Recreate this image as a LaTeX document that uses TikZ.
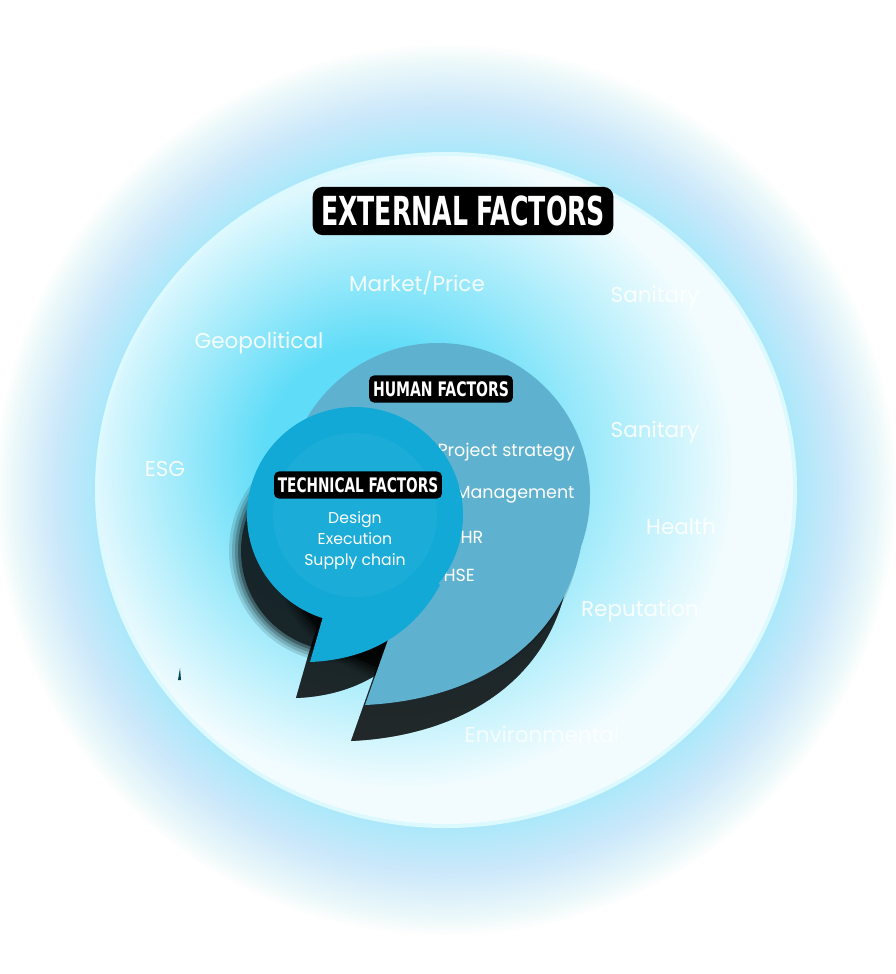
\documentclass[tikz,border=0pt]{standalone}
\usepackage{fontspec}
\setmainfont{Poppins}
\newfontfamily\titlefont{DejaVu Sans Condensed}
\usetikzlibrary{shapes.geometric}
\definecolor{humc}{HTML}{5FB2CF}
\definecolor{tecc}{HTML}{12A9D6}
\definecolor{glowc}{HTML}{5EDCF8}
\definecolor{haloc}{HTML}{6FE8FA}
\definecolor{rimc}{HTML}{F2FCFE}
\pgfdeclareradialshading{extglow}{\pgfpoint{-6bp}{3bp}}{color(0bp)=(glowc); color(8bp)=(glowc); color(24bp)=(rimc); color(50bp)=(rimc)}
\tikzset{
 titlebox/.style={fill=black,text=white,rounded corners=5pt,inner xsep=5pt,inner ysep=6pt},
 ext/.style={text=white,font=\fontsize{21.5}{24}\selectfont,opacity=0.9},
 hum/.style={text=white,font=\fontsize{17.5}{20}\selectfont,anchor=west},
 tec/.style={text=white,font=\fontsize{15.7}{21}\selectfont,align=center}
}
\begin{document}
\begin{tikzpicture}[x=1pt,y=-1pt]
\useasboundingbox (0,0) rectangle (896,974);
\fill[white] (0,0) rectangle (896,974);
% halo
\foreach \i in {0,...,40}{
 \fill[haloc,opacity=0.014] (446,490) ellipse ({346pt+2.6pt*\i} and {333pt+2.8pt*\i});
}
\fill[haloc!25] (446,490) ellipse (351pt and 338pt);
\shade[shading=extglow] (446,490) ellipse (347pt and 334pt);
% shadows
\foreach \k/\o in {0/0.12,1/0.15,2/0.2,3/0.3,4/0.6}{
 \begin{scope}[shift={(-14,36)}]
 \fill[black,opacity=\o] (438,495) circle ({156pt-3pt*\k});
 \fill[black,opacity=\o] (581,547) .. controls (560,650) and (470,700) .. (365,705) -- (395,620) -- (438,495) -- cycle;
 \fill[black,opacity=\o] (355,515) circle ({112pt-3pt*\k});
 \fill[black,opacity=\o] (440,585) .. controls (410,640) and (360,660) .. (310,662) -- (322,620) -- (355,515) -- cycle;
 \end{scope}
}
% human bubble
\fill[humc] (438,495) circle (152pt);
\fill[humc] (581,547) .. controls (560,650) and (470,700) .. (365,705) -- (395,620) -- (438,495) -- cycle;
\node[titlebox,font=\titlefont\bfseries\fontsize{20}{22}\selectfont,xscale=0.78] (hf) at (441,389) {HUMAN FACTORS};
\node[hum] (ps) at (434,452) {Project strategy};
\node[hum] (mg) at (452,495) {Management};
\node[hum] (hr) at (457,537) {HR};
\node[hum] (hse) at (440,575) {HSE};
% technical bubble
\fill[tecc] (355,515) circle (108pt);
\fill[tecc] (440,585) .. controls (410,640) and (360,660) .. (310,662) -- (322,620) -- (355,515) -- cycle;
\fill[white,opacity=0.04] (355,515) circle (82pt);
\node[titlebox,font=\titlefont\bfseries\fontsize{20}{22}\selectfont,xscale=0.76] (tf) at (358,485) {TECHNICAL FACTORS};
\node[tec] (tl) at (355,541) {Design\\Execution\\Supply chain};
% external
\node[titlebox,font=\titlefont\bfseries\fontsize{40}{44}\selectfont,inner xsep=12pt,inner ysep=9pt,rounded corners=10pt,xscale=0.7] (ef) at (463,211) {EXTERNAL FACTORS};
\node[ext] (mp) at (417,283) {Market/Price};
\node[ext] (s1) at (655,297) {Sanitary};
\node[ext] (gp) at (259,343) {Geopolitical};
\node[ext] (s2) at (655,432) {Sanitary};
\node[ext] (esg) at (165,469) {ESG};
\node[ext] (he) at (681,527) {Health};
\node[ext] (rep) at (640,611) {Reputation};
\node[ext,opacity=0.75] (env) at (542,734) {Environmental};
\fill[black!60!tecc] (178,680) -- (180,668) -- (181,680) -- cycle;
\end{tikzpicture}
\end{document}
